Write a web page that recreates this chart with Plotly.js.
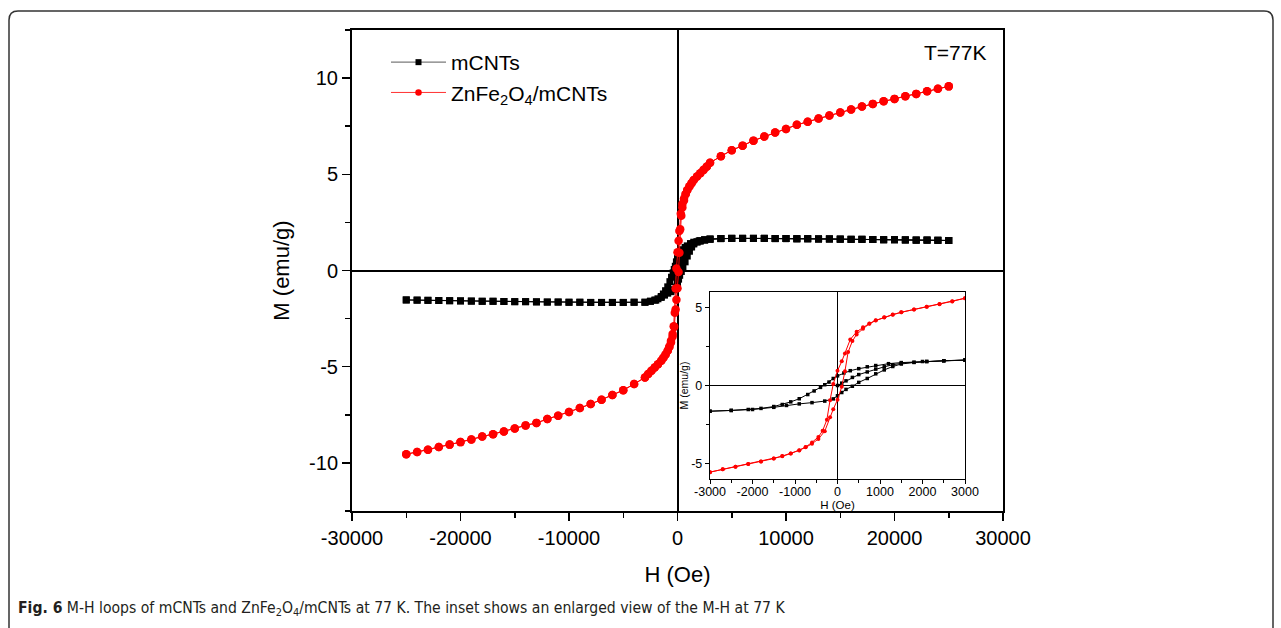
<!DOCTYPE html>
<html>
<head>
<meta charset="utf-8">
<script src="https://cdn.plot.ly/plotly-3.0.1.min.js"></script>
<style>html,body{margin:0;padding:0;background:#fff;}#chart{width:1281px;height:628px;}</style>
</head>
<body>
<div id="chart"></div>
<script>
// ---------- data ----------
// high-field points, H > 3000 Oe
const hPosHigh = [4000,5000,6000,7000,8000,9000,10000,11000,12000,13000,14000,15000,16000,17000,18000,19000,20000,21000,22000,23000,24000,25000];
const mBlackPosHigh = [1.66,1.67,1.67,1.67,1.67,1.66,1.66,1.65,1.65,1.64,1.64,1.63,1.62,1.62,1.61,1.60,1.60,1.59,1.58,1.58,1.57,1.56];
const mRedPosHigh = [5.94,6.25,6.49,6.75,6.96,7.17,7.36,7.57,7.73,7.90,8.06,8.21,8.37,8.52,8.66,8.80,8.92,9.06,9.18,9.32,9.45,9.57];
// high-field points, H < -3000 Oe
const hNegHigh = [-4000,-5000,-6000,-7000,-8000,-9000,-10000,-11000,-12000,-13000,-14000,-15000,-16000,-17000,-18000,-19000,-20000,-21000,-22000,-23000,-24000,-25000];
const mBlackNegHigh = [-1.65,-1.66,-1.66,-1.66,-1.66,-1.65,-1.65,-1.64,-1.64,-1.63,-1.62,-1.62,-1.61,-1.60,-1.60,-1.59,-1.58,-1.57,-1.56,-1.55,-1.54,-1.53];
const mRedNegHigh = [-5.90,-6.22,-6.47,-6.72,-6.94,-7.15,-7.35,-7.55,-7.72,-7.92,-8.05,-8.21,-8.37,-8.51,-8.63,-8.78,-8.92,-9.05,-9.17,-9.32,-9.43,-9.55];

// low-field loop of mCNTs (|H| <= 3000 Oe)
const hBlackVirgin = [0,100,200,350,500,700,900,1100,1300,1500,1800,2100,2500,3000];
const mBlackVirgin = [0.00,0.15,0.30,0.52,0.70,0.87,1.05,1.20,1.33,1.42,1.49,1.54,1.59,1.63];
const hBlackDesc = [3000,2500,2000,1500,1200,900,700,500,300,150,0,-100,-200,-300,-400,-550,-700,-900,-1100,-1300,-1500,-1800,-2100,-2500,-3000];
const mBlackDesc = [1.63,1.59,1.54,1.47,1.40,1.28,1.20,1.08,0.95,0.80,0.62,0.45,0.22,0.05,-0.12,-0.35,-0.58,-0.85,-1.05,-1.22,-1.35,-1.47,-1.54,-1.60,-1.65];
const hBlackAsc = [-3000,-2500,-2000,-1500,-1200,-900,-600,-300,-100,0,100,200,350,500,700,900,1100,1300,1500,1800,2100,2500,3000];
const mBlackAsc = [-1.65,-1.60,-1.54,-1.40,-1.28,-1.18,-1.10,-1.00,-0.86,-0.66,-0.45,-0.25,-0.05,0.20,0.45,0.75,1.00,1.22,1.38,1.48,1.54,1.59,1.63];

// low-field loop of ZnFe2O4/mCNTs (|H| <= 3000 Oe)
const hRedDesc = [3000,2700,2400,2100,1800,1500,1300,1100,900,750,600,450,300,175,100,0,-100,-175,-250,-350,-450,-600,-750,-900,-1100,-1300,-1500,-1800,-2100,-2400,-2700,-3000];
const mRedDesc = [5.60,5.40,5.23,5.06,4.88,4.70,4.55,4.38,4.18,3.98,3.74,3.45,2.95,2.05,1.55,0.95,0.10,-0.94,-2.20,-2.90,-3.30,-3.65,-3.95,-4.16,-4.36,-4.53,-4.69,-4.87,-5.04,-5.21,-5.38,-5.56];
const hRedAsc = [-3000,-2700,-2400,-2100,-1800,-1500,-1300,-1100,-900,-750,-600,-450,-300,-175,-100,0,100,175,250,350,450,600,750,900,1100,1300,1500,1800,2100,2400,2700,3000];
const mRedAsc = [-5.56,-5.38,-5.21,-5.04,-4.87,-4.69,-4.54,-4.37,-4.17,-3.97,-3.74,-3.43,-2.93,-2.03,-1.52,-0.92,-0.08,0.92,2.15,2.85,3.28,3.64,3.96,4.17,4.37,4.54,4.70,4.88,5.05,5.22,5.39,5.60];

// tick labels
const xTickVals = [-30000,-20000,-10000,0,10000,20000,30000];
const xTickText = ["-30000","-20000","-10000","0","10000","20000","30000"];
const yTickVals = [-10,-5,0,5,10];
const yTickText = ["-10","-5","0","5","10"];
const xInsetTickVals = [-3000,-2000,-1000,0,1000,2000,3000];
const xInsetTickText = ["-3000","-2000","-1000","0","1000","2000","3000"];
const yInsetTickVals = [-5,0,5];
const yInsetTickText = ["-5","0","5"];

const seriesNames = ["mCNTs", "ZnFe<sub>2</sub>O<sub>4</sub>/mCNTs"];

// ---------- assemble measurement sequences ----------
const rev = a => a.slice().reverse();
const blackH = [].concat(hBlackVirgin, hPosHigh, rev(hPosHigh), hBlackDesc, hNegHigh, rev(hNegHigh), hBlackAsc, hPosHigh);
const blackM = [].concat(mBlackVirgin, mBlackPosHigh, rev(mBlackPosHigh), mBlackDesc, mBlackNegHigh, rev(mBlackNegHigh), mBlackAsc, mBlackPosHigh);
const redH = [].concat(rev(hPosHigh), hRedDesc, hNegHigh, rev(hNegHigh), hRedAsc, hPosHigh);
const redM = [].concat(rev(mRedPosHigh), mRedDesc, mRedNegHigh, rev(mRedNegHigh), mRedAsc, mRedPosHigh);

// ---------- layout geometry (pixels) ----------
const W = 1281, H = 628;
const L = 352, R = 1003, T = 30, B = 511;
const pw = R - L, ph = B - T;
const px = x => (x - L) / pw;
const py = y => (B - y) / ph;

const FONT = "Liberation Sans, Arial, sans-serif";

const traces = [
  {x: blackH, y: blackM, type: 'scatter', mode: 'lines+markers', name: seriesNames[0], showlegend: false,
   line: {color: '#000', width: 1}, marker: {symbol: 'square', size: 7, color: '#000'}, xaxis: 'x', yaxis: 'y'},
  {x: redH, y: redM, type: 'scatter', mode: 'lines+markers', name: seriesNames[1], showlegend: false,
   line: {color: '#ff0000', width: 1}, marker: {symbol: 'circle', size: 8.5, color: '#ff0000'}, xaxis: 'x', yaxis: 'y'},
  {x: blackH, y: blackM, type: 'scatter', mode: 'lines+markers', showlegend: false, hoverinfo: 'skip',
   line: {color: '#000', width: 1}, marker: {symbol: 'square', size: 3.5, color: '#000'}, xaxis: 'x2', yaxis: 'y2'},
  {x: redH, y: redM, type: 'scatter', mode: 'lines+markers', showlegend: false, hoverinfo: 'skip',
   line: {color: '#ff0000', width: 1}, marker: {symbol: 'circle', size: 4, color: '#ff0000'}, xaxis: 'x2', yaxis: 'y2'},
  // legend entries (symbol style as in the reference legend)
  {x: [null], y: [null], type: 'scatter', mode: 'lines+markers', name: seriesNames[0], showlegend: true,
   line: {color: '#7a7a7a', width: 1.2}, marker: {symbol: 'square', size: 6, color: '#000'}, xaxis: 'x', yaxis: 'y'},
  {x: [null], y: [null], type: 'scatter', mode: 'lines+markers', name: seriesNames[1], showlegend: true,
   line: {color: '#ff3030', width: 1}, marker: {symbol: 'circle', size: 6.5, color: '#ff0000'}, xaxis: 'x', yaxis: 'y'}
];

// rounded frame around figure + caption
const fx0 = 9, fy0 = 11, fx1 = 1273, fy1 = 660, rad = 9;
const framePath = `M ${px(fx0)},${py(fy1)} L ${px(fx0)},${py(fy0+rad)} Q ${px(fx0)},${py(fy0)} ${px(fx0+rad)},${py(fy0)} L ${px(fx1-rad)},${py(fy0)} Q ${px(fx1)},${py(fy0)} ${px(fx1)},${py(fy0+rad)} L ${px(fx1)},${py(fy1)}`;

const insetX0 = 710, insetX1 = 965, insetY0 = 292, insetY1 = 479;

const layout = {
  width: W, height: H,
  margin: {l: L, r: W - R, t: T, b: H - B, pad: 0},
  paper_bgcolor: '#fff', plot_bgcolor: '#fff',
  font: {family: FONT, color: '#000'},
  showlegend: true,
  legend: {x: px(386), y: py(42), xanchor: 'left', yanchor: 'top', bgcolor: 'rgba(0,0,0,0)',
           font: {family: FONT, size: 21, color: '#000'}, itemwidth: 55, tracegroupgap: 0},
  xaxis: {
    domain: [0, 1], anchor: 'y', range: [-30000, 30000],
    tickmode: 'array', tickvals: xTickVals, ticktext: xTickText,
    ticks: 'outside', ticklen: 8, tickwidth: 1.5, tickcolor: '#000',
    minor: {tickmode: 'linear', tick0: 0, dtick: 5000, ticks: 'outside', ticklen: 5, tickwidth: 1.5, tickcolor: '#000', showgrid: false},
    showline: true, linewidth: 2, linecolor: '#000', mirror: true,
    showgrid: false, zeroline: true, zerolinecolor: '#000', zerolinewidth: 2,
    tickfont: {family: FONT, size: 20, color: '#000'},
    title: {text: 'H (Oe)', font: {family: FONT, size: 22, color: '#000'}, standoff: 19}
  },
  yaxis: {
    domain: [0, 1], anchor: 'x', range: [-12.5, 12.5],
    tickmode: 'array', tickvals: yTickVals, ticktext: yTickText,
    ticks: 'outside', ticklen: 8, tickwidth: 1.5, tickcolor: '#000',
    minor: {tickmode: 'linear', tick0: 0, dtick: 2.5, ticks: 'outside', ticklen: 5, tickwidth: 1.5, tickcolor: '#000', showgrid: false},
    showline: true, linewidth: 2, linecolor: '#000', mirror: true,
    showgrid: false, zeroline: true, zerolinecolor: '#000', zerolinewidth: 2,
    tickfont: {family: FONT, size: 20, color: '#000'},
    title: {text: 'M (emu/g)', font: {family: FONT, size: 22, color: '#000'}, standoff: 13}
  },
  xaxis2: {
    domain: [px(insetX0), px(insetX1)], anchor: 'y2', range: [-3000, 3000],
    tickmode: 'array', tickvals: xInsetTickVals, ticktext: xInsetTickText,
    ticks: 'outside', ticklen: 4, tickwidth: 1, tickcolor: '#000', ticklabelstandoff: -3,
    minor: {tickmode: 'linear', tick0: 0, dtick: 500, ticks: 'outside', ticklen: 2.5, tickwidth: 1, tickcolor: '#000', showgrid: false},
    showline: true, linewidth: 1.2, linecolor: '#000', mirror: true,
    showgrid: false, zeroline: true, zerolinecolor: '#000', zerolinewidth: 1.2,
    tickfont: {family: FONT, size: 12.5, color: '#000'},
    title: {text: 'H (Oe)', font: {family: FONT, size: 11.5, color: '#000'}, standoff: 0}
  },
  yaxis2: {
    domain: [py(insetY1), py(insetY0)], anchor: 'x2', range: [-6, 6],
    tickmode: 'array', tickvals: yInsetTickVals, ticktext: yInsetTickText,
    ticks: 'outside', ticklen: 4, tickwidth: 1, tickcolor: '#000',
    minor: {tickmode: 'linear', tick0: 0, dtick: 2.5, ticks: 'outside', ticklen: 2.5, tickwidth: 1, tickcolor: '#000', showgrid: false},
    showline: true, linewidth: 1.2, linecolor: '#000', mirror: true,
    showgrid: false, zeroline: true, zerolinecolor: '#000', zerolinewidth: 1.2,
    tickfont: {family: FONT, size: 12.5, color: '#000'},
    title: {text: 'M (emu/g)', font: {family: FONT, size: 10.5, color: '#000'}, standoff: 0}
  },
  shapes: [
    {type: 'path', xref: 'paper', yref: 'paper', path: framePath, line: {color: '#333', width: 1.5}, layer: 'above'}
  ],
  annotations: [
    {text: 'T=77K', xref: 'paper', yref: 'paper', x: px(988), y: py(52), xanchor: 'right', yanchor: 'middle',
     showarrow: false, font: {family: FONT, size: 21, color: '#000'}},
    {text: '<b>Fig. 6</b> M-H loops of mCNTs and ZnFe<sub>2</sub>O<sub>4</sub>/mCNTs at 77 K. The inset shows an enlarged view of the M-H at 77 K',
     xref: 'paper', yref: 'paper', x: px(16), y: py(609), xanchor: 'left', yanchor: 'middle',
     showarrow: false, font: {family: 'DejaVu Sans Condensed, Liberation Sans Narrow, sans-serif', size: 15.6, color: '#231f20'}}
  ]
};

Plotly.newPlot('chart', traces, layout, {displayModeBar: false, staticPlot: true});
</script>
</body>
</html>
